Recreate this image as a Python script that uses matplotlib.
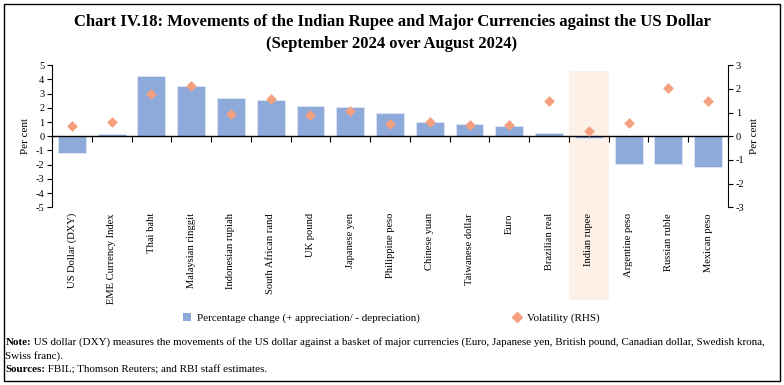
import matplotlib
matplotlib.use("Agg")
import matplotlib.pyplot as plt
import numpy as np
from matplotlib.lines import Line2D
from matplotlib.patches import Patch, Rectangle

plt.rcParams['font.family'] = ['Liberation Serif', 'DejaVu Serif']

categories = ["US Dollar (DXY)", "EME Currency Index", "Thai baht", "Malaysian ringgit",
              "Indonesian rupiah", "South African rand", "UK pound", "Japanese yen",
              "Philippine peso", "Chinese yuan", "Taiwanese dollar", "Euro",
              "Brazilian real", "Indian rupee", "Argentine peso", "Russian ruble",
              "Mexican peso"]
pct_change = [-1.15, 0.19, 4.27, 3.57, 2.72, 2.54, 2.14, 2.09, 1.67, 1.01, 0.85, 0.75,
              0.26, -0.09, -1.97, -1.97, -2.14]
volatility = [0.45, 0.62, 1.77, 2.11, 0.93, 1.59, 0.92, 1.06, 0.54, 0.59, 0.49, 0.46,
              1.49, 0.23, 0.55, 2.06, 1.49]
left_ticks = [5, 4, 3, 2, 1, 0, -1, -2, -3, -4, -5]
right_ticks = [3, 2, 1, 0, -1, -2, -3]
highlight = "Indian rupee"

bar_color = '#8eaadb'
dia_color = '#f4a07f'
shade_color = '#fdf1e7'

fig = plt.figure(figsize=(7.84, 3.85), dpi=100)
fig.add_artist(Rectangle((0.005, 0.01), 0.99, 0.98, transform=fig.transFigure,
                         fill=False, edgecolor='black', linewidth=1.0))

ax = fig.add_axes([0.0663, 0.4615, 0.8623, 0.369])
x = np.arange(len(categories))
hi = categories.index(highlight)
ax.axvspan(hi - 0.5, hi + 0.5, ymin=-0.655, ymax=0.96, color=shade_color,
           clip_on=False, zorder=0, linewidth=0)
ax.bar(x, pct_change, width=0.7, color=bar_color, zorder=2,
       edgecolor='#dfe7f5', linewidth=0.6)
ax.set_xlim(-0.5, len(categories) - 0.5)
ax.set_ylim(-5, 5)
ax.set_yticks(left_ticks)
ax.set_yticklabels([str(t) for t in left_ticks])
ax.tick_params(axis='y', labelsize=7.5, length=3.5, width=0.8, pad=2)
ax.set_ylabel("Per cent", fontsize=8, labelpad=4)

ax.spines['top'].set_visible(False)
ax.spines['right'].set_visible(False)
ax.spines['bottom'].set_position(('data', 0))
ax.spines['bottom'].set_linewidth(1.0)
ax.spines['left'].set_linewidth(0.8)
ax.set_xticks(x)
ax.set_xticklabels([])
ax.tick_params(axis='x', which='major', length=0)
ax.set_xticks(np.arange(len(categories) + 1) - 0.5, minor=True)
ax.tick_params(axis='x', which='minor', length=4, width=0.8, direction='out')

sec = ax.secondary_xaxis(-0.04)
sec.set_xticks(x)
sec.set_xticklabels(categories, rotation=90, fontsize=7.6, va='top', ha='center')
sec.tick_params(length=0, pad=0)
sec.spines['bottom'].set_visible(False)

ax2 = ax.twinx()
ax2.set_ylim(-3, 3)
ax2.set_yticks(right_ticks)
ax2.set_yticklabels([str(t) for t in right_ticks])
ax2.tick_params(axis='y', labelsize=7.5, length=3.5, width=0.8, pad=2)
ax2.set_ylabel("Per cent", fontsize=8, labelpad=4)
for s in ['top', 'bottom', 'left']:
    ax2.spines[s].set_visible(False)
ax2.spines['right'].set_linewidth(0.8)
ax2.scatter(x, volatility, marker='D', s=30, color=dia_color, zorder=3, linewidths=0)

fig.text(0.5, 0.943, "Chart IV.18: Movements of the Indian Rupee and Major Currencies against the US Dollar",
         ha='center', va='center', fontsize=12, fontweight='bold')
fig.text(0.5, 0.886, "(September 2024 over August 2024)",
         ha='center', va='center', fontsize=12, fontweight='bold')

handles = [Patch(facecolor=bar_color, edgecolor='none'),
           Line2D([], [], marker='D', linestyle='none', color=dia_color, markersize=5)]
fig.legend(handles, ["Percentage change (+ appreciation/ - depreciation)", "Volatility (RHS)"],
           loc='center', bbox_to_anchor=(0.499, 0.174), ncol=2, frameon=False,
           fontsize=7.9, handlelength=0.8, handleheight=0.8, handletextpad=0.5,
           columnspacing=8.5)

nfs = 7.95
t1 = fig.text(0.007, 0.103, "Note:", fontsize=nfs, fontweight='bold', va='baseline', ha='left')
ax.annotate(" US dollar (DXY) measures the movements of the US dollar against a basket of major currencies (Euro, Japanese yen, British pound, Canadian dollar, Swedish krona,",
            xy=(1, 0), xycoords=t1, va='bottom', ha='left', fontsize=nfs,
            annotation_clip=False)
fig.text(0.007, 0.068, "Swiss franc).", fontsize=nfs, va='baseline', ha='left')
t2 = fig.text(0.007, 0.033, "Sources:", fontsize=nfs, fontweight='bold', va='baseline', ha='left')
ax.annotate(" FBIL; Thomson Reuters; and RBI staff estimates.",
            xy=(1, 0), xycoords=t2, va='bottom', ha='left', fontsize=nfs,
            annotation_clip=False)

fig.savefig("out.png", dpi=100)
